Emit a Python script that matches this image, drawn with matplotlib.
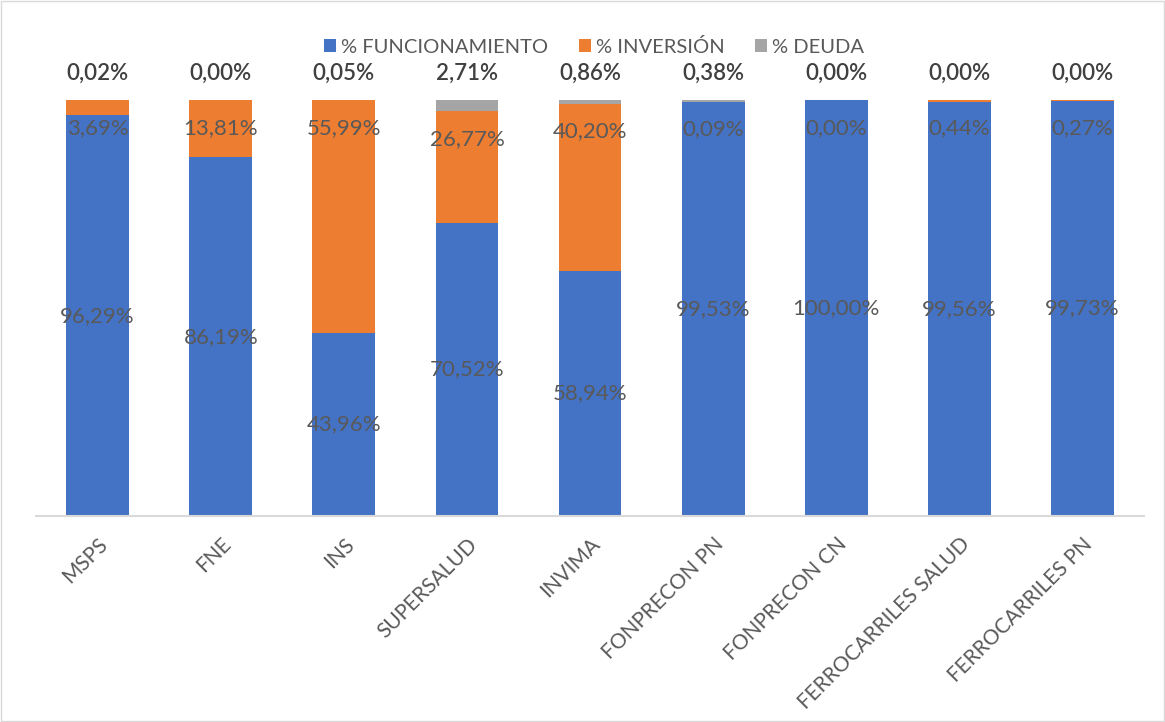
import matplotlib.pyplot as plt
from matplotlib.patches import Rectangle

plt.rcParams['font.family'] = ['Lato', 'DejaVu Sans']

categories = ['MSPS', 'FNE', 'INS', 'SUPERSALUD', 'INVIMA', 'FONPRECON PN',
              'FONPRECON CN', 'FERROCARRILES SALUD', 'FERROCARRILES PN']
funcionamiento = [96.29, 86.19, 43.96, 70.52, 58.94, 99.53, 100.00, 99.56, 99.73]
inversion = [3.69, 13.81, 55.99, 26.77, 40.20, 0.09, 0.00, 0.44, 0.27]
deuda = [0.02, 0.00, 0.05, 2.71, 0.86, 0.38, 0.00, 0.00, 0.00]

blue = '#4472C4'
orange = '#ED7D31'
gray = '#A5A5A5'
label_color = '#595959'

fig = plt.figure(figsize=(11.65, 7.22), dpi=100)
ax = fig.add_axes([0.031, 0.2853, 0.951, 0.5762])

x = list(range(len(categories)))
width = 0.51
bottom2 = [f + i for f, i in zip(funcionamiento, inversion)]

b1 = ax.bar(x, funcionamiento, width, color=blue, label='% FUNCIONAMIENTO')
b2 = ax.bar(x, inversion, width, bottom=funcionamiento, color=orange, label='% INVERSIÓN')
b3 = ax.bar(x, deuda, width, bottom=bottom2, color=gray, label='% DEUDA')

def fmt(v):
    return f'{v:.2f}'.replace('.', ',') + '%'

# funcionamiento labels centred in the blue segment
for xi, f in zip(x, funcionamiento):
    ax.text(xi, f / 2, fmt(f), ha='center', va='center', fontsize=16, color=label_color)

# inversion labels near the top of the orange segment
for xi, top, v in zip(x, bottom2, inversion):
    ax.annotate(fmt(v), (xi, top), xytext=(0, -20), textcoords='offset points',
                ha='center', va='center', fontsize=16, color=label_color)

# deuda labels above the bars
for xi, f, i, d in zip(x, funcionamiento, inversion, deuda):
    ax.annotate(fmt(d), (xi, f + i + d), xytext=(0, 19), textcoords='offset points',
                ha='center', va='center', fontsize=16, color='#404040',
                fontweight='semibold', annotation_clip=False)

ax.set_xlim(-0.5, len(categories) - 0.5)
ax.set_ylim(0, 100)
ax.set_yticks([])
for s in ['top', 'right', 'left']:
    ax.spines[s].set_visible(False)
ax.spines['bottom'].set_color('#D9D9D9')
ax.spines['bottom'].set_linewidth(1.5)
ax.tick_params(axis='x', length=0, pad=13)
ax.set_xticks(x)
ax.set_xticklabels(categories, rotation=45, ha='right', rotation_mode='anchor',
                   fontsize=15, color=label_color)

fig.legend(handles=[b1, b2, b3], loc='center', bbox_to_anchor=(0.51, 0.935), ncol=3,
           frameon=False, fontsize=14.5, labelcolor=label_color, handlelength=0.6,
           handleheight=0.6, handletextpad=0.25, columnspacing=1.5)

fig.patches.append(Rectangle((0.001, 0.001), 0.998, 0.997, transform=fig.transFigure,
                             fill=False, edgecolor='#D9D9D9', linewidth=1))

fig.savefig('out.png', dpi=100)
